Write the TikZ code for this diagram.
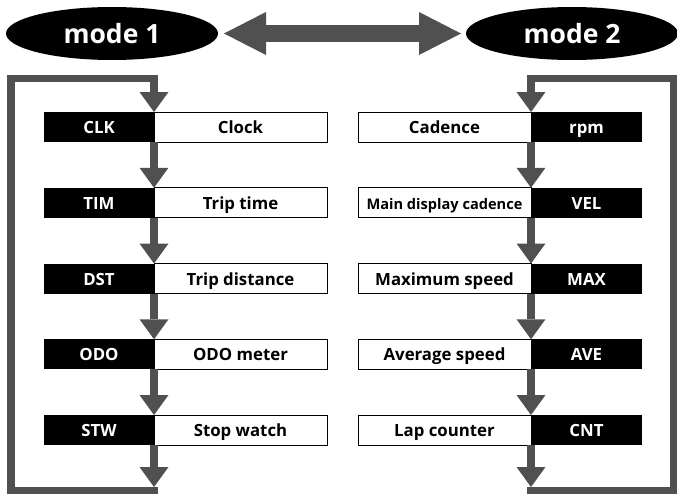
\documentclass[tikz,border=0pt]{standalone}
\usepackage{fontspec}
\setsansfont{Open Sans}
\usetikzlibrary{arrows.meta,shapes.geometric}
\definecolor{agray}{RGB}{80,80,80}
\begin{document}
\begin{tikzpicture}[x=1pt,y=-1pt,
  lbl/.style={font=\sffamily\bfseries\fontsize{16.8}{17}\selectfont},
  small/.style={font=\sffamily\bfseries\fontsize{14.6}{15}\selectfont},
  blk/.style={lbl, fill=black, text=white, minimum height=30pt, inner sep=0pt, outer sep=0pt, text height=13pt, text depth=0pt},
  wht/.style={lbl, draw=black, line width=0.8pt, fill=white, text=black, minimum height=30pt, inner sep=0pt, outer sep=0pt, text height=13pt, text depth=0pt},
  lw/.style={minimum width=110pt},
  ww/.style={minimum width=173pt},
  modenode/.style={ellipse, fill=black, text=white, minimum width=212pt, minimum height=53pt, inner sep=0pt, outer sep=0pt, font=\sffamily\bfseries\fontsize{26.5}{28}\selectfont},
  flow/.style={draw=agray, line width=8.5pt, -{Triangle[width=29pt,length=20pt,line width=0pt]}},
  frame/.style={draw=agray, line width=7.5pt, line join=miter, -{Triangle[width=29pt,length=20pt,line width=0pt]}},
  dbl/.style={draw=agray, line width=17pt, {Triangle[width=43pt,length=42pt,line width=0pt]}-{Triangle[width=43pt,length=42pt,line width=0pt]}}
]
\useasboundingbox (0,0) rectangle (677,501);

% mode ellipses
\node[modenode] (m1) at (112,33.5) {mode 1};
\node[modenode] (m2) at (572,33.5) {mode 2};
\draw[dbl] ([xshift=6pt]m1.east) -- ([xshift=-5pt]m2.west);

% left column
\node[wht,ww] (clkW) at (240.5,127) {Clock};
\node[blk,lw] (clkB) at (99,127) {CLK};
\node[wht,ww] (timW) at (240.5,202.75) {Trip time};
\node[blk,lw] (timB) at (99,202.75) {TIM};
\node[wht,ww] (dstW) at (240.5,278.5) {Trip distance};
\node[blk,lw] (dstB) at (99,278.5) {DST};
\node[wht,ww] (odoW) at (240.5,354.25) {ODO meter};
\node[blk,lw] (odoB) at (99,354.25) {ODO};
\node[wht,ww] (stwW) at (240.5,430) {Stop watch};
\node[blk,lw] (stwB) at (99,430) {STW};

% right column
\node[wht,ww] (cadW) at (444.5,127) {Cadence};
\node[blk,lw,minimum width=111pt] (cadB) at (586.5,127) {rpm};
\node[wht,ww,small] (velW) at (444.5,202.75) {Main display cadence};
\node[blk,lw,minimum width=111pt] (velB) at (586.5,202.75) {VEL};
\node[wht,ww] (maxW) at (444.5,278.5) {Maximum speed};
\node[blk,lw,minimum width=111pt] (maxB) at (586.5,278.5) {MAX};
\node[wht,ww] (aveW) at (444.5,354.25) {Average speed};
\node[blk,lw,minimum width=111pt] (aveB) at (586.5,354.25) {AVE};
\node[wht,ww] (cntW) at (444.5,430) {Lap counter};
\node[blk,lw,minimum width=111pt] (cntB) at (586.5,430) {CNT};

% left flow
\draw[flow] (clkB.south east) -- (timB.north east);
\draw[flow] (timB.south east) -- (dstB.north east);
\draw[flow] (dstB.south east) -- (odoB.north east);
\draw[flow] (odoB.south east) -- (stwB.north east);
\coordinate (L1) at (154,487);
\coordinate (Lbl) at (11,490.5);
\coordinate (Ltl) at (11,78.5);
\draw[flow] (stwB.south east) -- (L1);
\draw[frame] (L1) |- (Lbl) -- (Ltl) -| (clkB.north east);

% right flow
\draw[flow] (cadW.south east) -- (velW.north east);
\draw[flow] (velW.south east) -- (maxW.north east);
\draw[flow] (maxW.south east) -- (aveW.north east);
\draw[flow] (aveW.south east) -- (cntW.north east);
\coordinate (R1) at (531,487);
\coordinate (Rbr) at (673.5,490.5);
\coordinate (Rtr) at (673.5,78.5);
\draw[flow] (cntW.south east) -- (R1);
\draw[frame] (R1) |- (Rbr) -- (Rtr) -| (cadB.north west);
\end{tikzpicture}
\end{document}
